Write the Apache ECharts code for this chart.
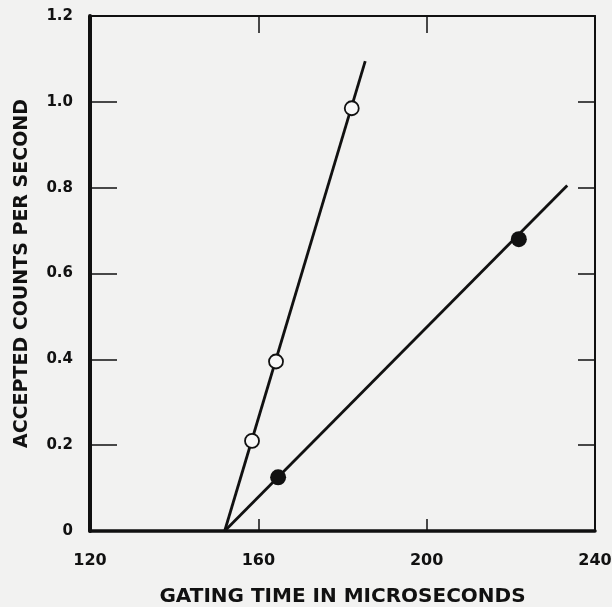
<!DOCTYPE html>
<html>
<head>
<meta charset="utf-8">
<script src="https://cdn.jsdelivr.net/npm/echarts@6/dist/echarts.min.js"></script>
<style>
    html, body { margin: 0; padding: 0; background: #f2f2f1; }
    #chart { width: 612px; height: 607px; }
</style>
</head>
<body>
<div id="chart"></div>
<script>
// 数据
var openPts = [[158.5, 0.21], [164.2, 0.395], [182.2, 0.985]];
var filledPts = [[164.7, 0.125], [221.9, 0.68]];
// fitted lines, endpoints as drawn
var openLine = [[152, 0], [185.4, 1.095]];
var filledLine = [[152, 0], [233.4, 0.805]];

var xTicks = [120, 160, 200, 240];
var yTicks = [0, 0.2, 0.4, 0.6, 0.8, 1.0, 1.2];

var ink = '#111111';
var font = '"DejaVu Sans", sans-serif';

var chart = echarts.init(document.getElementById('chart'));

var option = {
    backgroundColor: '#f2f2f1',
    animation: false,
    grid: {
        left: 90,
        right: 17,
        top: 16,
        bottom: 76,
        containLabel: false,
        outerBoundsMode: 'none'
    },
    xAxis: [
        {
            type: 'value',
            position: 'bottom',
            min: xTicks[0],
            max: xTicks[xTicks.length - 1],
            interval: 40,
            name: 'GATING TIME IN MICROSECONDS',
            nameLocation: 'middle',
            nameGap: 56,
            nameTextStyle: { color: ink, fontFamily: font, fontWeight: 'bold', fontSize: 20 },
            axisLine: { lineStyle: { color: ink, width: 3.5 } },
            axisTick: { inside: true, length: 12, lineStyle: { color: ink, width: 1.5 } },
            axisLabel: { margin: 22, color: ink, fontFamily: font, fontWeight: 'bold', fontSize: 16 },
            splitLine: { show: false }
        },
        {
            type: 'value',
            position: 'top',
            min: xTicks[0],
            max: xTicks[xTicks.length - 1],
            interval: 40,
            axisLine: { onZero: false, lineStyle: { color: ink, width: 2 } },
            axisTick: { inside: true, length: 17, lineStyle: { color: ink, width: 1.5 } },
            axisLabel: { show: false },
            splitLine: { show: false }
        }
    ],
    yAxis: [
        {
            type: 'value',
            position: 'left',
            min: 0,
            max: 1.2,
            interval: 0.2,
            name: 'ACCEPTED COUNTS PER SECOND',
            nameLocation: 'middle',
            nameGap: 58,
            nameRotate: 90,
            nameTextStyle: { color: ink, fontFamily: font, fontWeight: 'bold', fontSize: 19 },
            axisLine: { lineStyle: { color: ink, width: 4 } },
            axisTick: { inside: true, length: 27, lineStyle: { color: ink, width: 1.5 } },
            axisLabel: {
                margin: 17,
                color: ink,
                fontFamily: font,
                fontWeight: 'bold',
                fontSize: 15,
                formatter: function (v) { return v === 0 ? '0' : v.toFixed(1); }
            },
            splitLine: { show: false }
        },
        {
            type: 'value',
            position: 'right',
            min: 0,
            max: 1.2,
            interval: 0.2,
            axisLine: { show: true, onZero: false, lineStyle: { color: ink, width: 2 } },
            axisTick: { inside: true, length: 17, lineStyle: { color: ink, width: 1.5 } },
            axisLabel: { show: false },
            splitLine: { show: false }
        }
    ],
    series: [
        {
            type: 'line',
            data: openLine,
            symbol: 'none',
            lineStyle: { color: ink, width: 2.8 },
            z: 2
        },
        {
            type: 'line',
            data: filledLine,
            symbol: 'none',
            lineStyle: { color: ink, width: 2.8 },
            z: 2
        },
        {
            type: 'scatter',
            data: openPts,
            symbol: 'circle',
            symbolSize: 14,
            itemStyle: { color: '#f8f8f8', borderColor: ink, borderWidth: 1.8, opacity: 1 },
            z: 3
        },
        {
            type: 'scatter',
            data: filledPts,
            symbol: 'circle',
            symbolSize: 16,
            itemStyle: { color: ink, opacity: 1 },
            z: 3
        }
    ]
};

chart.setOption(option);
window.addEventListener('resize', function () {
    chart.resize();
});
</script>
</body>
</html>
